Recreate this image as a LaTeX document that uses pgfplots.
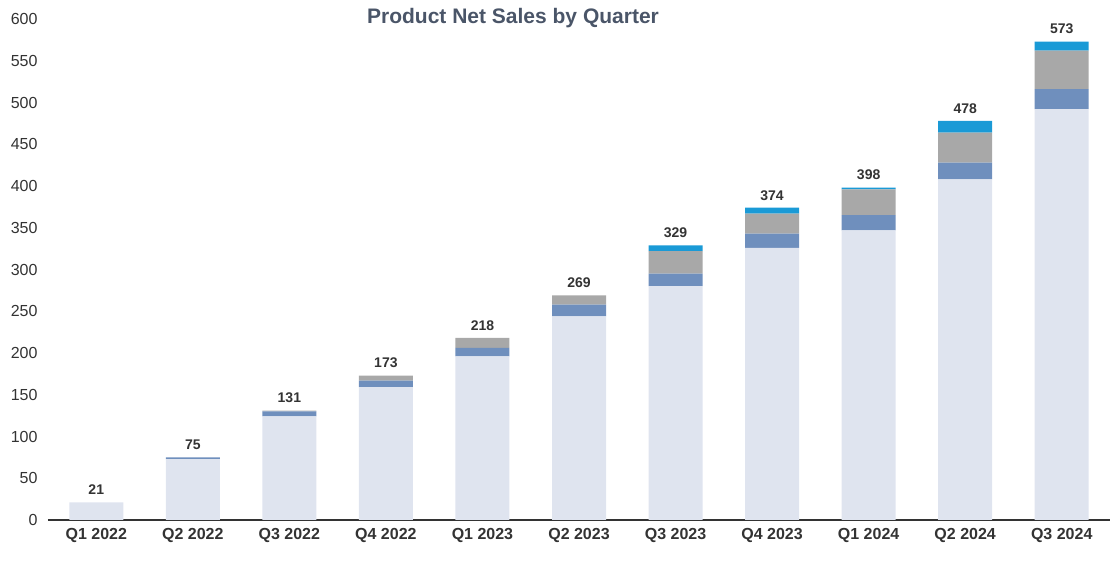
\documentclass[border=0pt]{standalone}
\usepackage{pgfplots}
\pgfplotsset{compat=1.18}
\usepackage{pgfplotstable}
\usepackage{fontspec}
\setmainfont{Liberation Sans}
\definecolor{cLight}{HTML}{DFE4EF}
\definecolor{cBlue}{HTML}{6F8FBD}
\definecolor{cGrey}{HTML}{A8A8A8}
\definecolor{cCyan}{HTML}{1A9AD6}
\definecolor{cTitle}{HTML}{4A5568}
\definecolor{cText}{HTML}{333333}
\pgfplotstableread{
x light blue grey cyan total
0 21 0 0 0 21
1 73 2 0 0 75
2 124 6 1 0 131
3 159 8 6 0 173
4 196 10 12 0 218
5 244 14 11 0 269
6 280 15 27 7 329
7 326 17 24 7 374
8 347 18 31 2 398
9 408 20 36 14 478
10 492 24 46 11 573
}\datatable
\begin{document}
\begin{tikzpicture}[x=1pt,y=1pt]
\useasboundingbox (-48,-41) rectangle (1071,520);
\begin{axis}[
  at={(0,0)}, anchor=south west,
  scale only axis,
  width=1062pt, height=501pt,
  ybar stacked,
  bar width=54pt,
  xmin=-0.5, xmax=10.5,
  ymin=0, ymax=600,
  ytick={0,50,...,600},
  xtick=data,
  xticklabels={Q1 2022,Q2 2022,Q3 2022,Q4 2022,Q1 2023,Q2 2023,Q3 2023,Q4 2023,Q1 2024,Q2 2024,Q3 2024},
  axis lines*=left,
  y axis line style={draw=none},
  x axis line style={draw=cText, line width=1.3pt, -},
  major tick length=0pt,
  /pgf/number format/assume math mode=true,
  yticklabel style={font=\fontsize{16}{16}\selectfont, text=cText, anchor=east, xshift=-7pt},
  xticklabel style={font=\fontsize{16}{16}\selectfont\bfseries, text=cText, yshift=-5pt},
  clip=false,
  every axis plot/.append style={draw=none},
]
\addplot[fill=cLight] table[x=x,y=light] {\datatable};
\addplot[fill=cBlue] table[x=x,y=blue] {\datatable};
\addplot[fill=cGrey] table[x=x,y=grey] {\datatable};
\addplot[fill=cCyan] table[x=x,y=cyan] {\datatable};
\end{axis}
\begin{axis}[
  at={(0,0)}, anchor=south west,
  scale only axis,
  width=1062pt, height=501pt,
  xmin=-0.5, xmax=10.5,
  ymin=0, ymax=600,
  hide axis,
  clip=false,
  /pgf/number format/assume math mode=true,
]
\addplot[draw=none, mark=none,
  nodes near coords,
  point meta=explicit,
  nodes near coords style={font=\fontsize{14}{14}\selectfont\bfseries, text=cText, anchor=south, yshift=4pt},
] table[x=x,y=total,meta=total] {\datatable};
\end{axis}
\node[font=\fontsize{21}{21}\selectfont\bfseries, text=cTitle] at (465,502) {Product Net Sales by Quarter};
\end{tikzpicture}
\end{document}
